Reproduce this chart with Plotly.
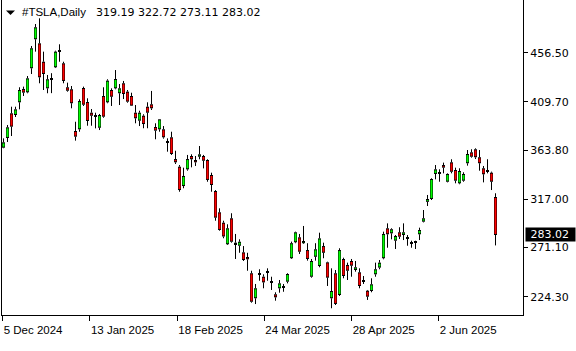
import plotly.graph_objects as go

# ---- data ----
opens = [366.1, 375.3, 398.8, 397.2, 409.3, 422.0, 418.8, 441.7, 469.3, 465.4,
         447.9, 422.6, 431.6, 442.6, 458.9, 446.4, 423.6, 421.7, 382.0, 383.6,
         422.9, 409.6, 399.4, 396.8, 385.1, 415.3, 409.3, 421.0, 422.6, 417.9,
         427.4, 419.4, 415.3, 399.4, 391.8, 396.5, 405.1, 407.4, 385.8, 383.6,
         383.6, 372.3, 376.0, 355.3, 348.0, 329.6, 345.5, 358.2, 354.4, 357.5,
         358.2, 354.4, 340.1, 324.9, 304.6, 294.7, 274.2, 298.9, 275.7, 272.8,
         266.5, 262.1, 246.6, 222.8, 245.3, 243.3, 247.0, 238.3, 226.6, 232.3,
         233.5, 238.6, 260.9, 276.1, 280.8, 275.2, 268.7, 243.3, 262.3, 253.5,
         272.5, 257.0, 222.8, 246.6, 225.9, 260.2, 254.5, 258.3, 249.7, 247.5,
         240.2, 230.0, 229.7, 245.6, 252.0, 260.9, 289.4, 284.6, 277.6, 285.6,
         283.0, 280.8, 275.5, 275.8, 283.7, 295.7, 314.6, 317.3, 341.1, 342.7,
         349.6, 333.7, 352.2, 344.9, 332.2, 334.7, 351.3, 361.7, 364.6, 357.0,
         346.5, 344.6, 342.3, 319.19]
highs = [375.0, 387.7, 405.1, 405.1, 423.6, 424.2, 434.3, 462.9, 483.8, 489.2,
         457.5, 435.3, 437.0, 458.4, 464.5, 447.9, 428.0, 424.8, 390.8, 412.2,
         424.2, 413.1, 402.9, 399.4, 398.2, 423.6, 431.2, 422.6, 440.0, 426.7,
         429.6, 421.0, 418.4, 406.7, 401.3, 397.9, 409.3, 420.1, 389.3, 393.3,
         386.7, 375.0, 381.3, 363.2, 349.6, 347.1, 359.2, 359.8, 358.2, 367.7,
         359.2, 355.1, 342.3, 325.8, 308.4, 296.6, 293.2, 303.7, 284.0, 278.9,
         272.5, 266.1, 249.0, 236.4, 250.4, 245.6, 251.3, 243.3, 228.5, 240.2,
         236.4, 246.6, 276.7, 286.2, 284.0, 291.6, 275.2, 260.2, 275.2, 285.2,
         275.7, 257.6, 251.3, 249.7, 270.4, 261.4, 256.7, 260.2, 258.3, 251.3,
         244.0, 230.7, 241.8, 256.7, 259.2, 286.2, 294.1, 289.4, 283.0, 290.4,
         294.1, 283.0, 277.6, 277.6, 290.0, 306.8, 321.1, 337.0, 349.6, 345.5,
         351.9, 341.7, 355.1, 347.1, 346.5, 342.7, 363.9, 364.6, 365.5, 363.9,
         348.7, 355.1, 343.3, 322.72]
lows = [365.6, 371.5, 377.2, 395.3, 402.6, 415.3, 417.9, 436.2, 457.5, 427.4,
        421.0, 417.9, 418.0, 441.9, 447.9, 427.4, 419.4, 403.6, 372.8, 381.3,
        405.8, 387.0, 387.0, 384.5, 382.9, 394.6, 408.4, 405.8, 421.7, 406.7,
        412.4, 408.9, 405.8, 389.3, 386.7, 384.6, 384.6, 402.0, 374.1, 381.3,
        374.7, 362.3, 359.2, 350.6, 324.2, 327.5, 344.2, 347.4, 348.7, 355.1,
        346.4, 333.7, 324.2, 296.6, 287.1, 279.9, 273.5, 275.7, 260.2, 266.1,
        258.3, 249.0, 218.6, 217.3, 239.5, 232.3, 239.5, 230.7, 220.5, 228.1,
        229.0, 237.0, 260.2, 275.2, 264.9, 274.5, 258.6, 242.4, 258.6, 252.3,
        260.9, 234.5, 213.3, 216.4, 225.0, 241.8, 240.2, 243.3, 248.1, 232.3,
        236.4, 221.2, 228.5, 243.3, 250.4, 259.9, 270.9, 278.9, 269.7, 279.2,
        278.2, 272.8, 270.9, 269.7, 278.2, 295.0, 310.6, 316.3, 336.0, 333.7,
        341.7, 333.1, 341.7, 332.2, 331.3, 333.7, 349.0, 356.6, 355.3, 344.2,
        333.1, 341.7, 325.8, 273.11]
closes = [371.2, 385.5, 386.1, 402.6, 421.0, 418.5, 432.1, 460.7, 480.7, 433.1,
          436.2, 431.2, 430.8, 457.5, 458.0, 429.6, 420.3, 408.4, 376.6, 410.5,
          407.0, 391.5, 396.5, 395.8, 397.2, 395.6, 429.9, 414.6, 431.5, 422.6,
          417.2, 409.9, 406.1, 394.1, 399.4, 388.6, 399.4, 403.6, 382.3, 393.1,
          376.0, 371.5, 360.1, 352.2, 325.8, 339.2, 355.3, 355.1, 352.2, 359.8,
          353.7, 335.4, 330.6, 299.5, 287.8, 281.6, 289.4, 276.6, 274.2, 276.6,
          259.2, 259.9, 219.5, 232.3, 246.0, 237.9, 248.0, 237.6, 223.7, 237.0,
          232.9, 245.9, 275.2, 285.6, 267.1, 277.3, 260.2, 258.3, 269.4, 279.8,
          266.1, 242.4, 229.7, 217.4, 268.7, 244.0, 249.0, 253.8, 252.3, 234.5,
          239.2, 224.3, 236.1, 250.4, 256.7, 284.0, 283.7, 288.5, 282.1, 281.4,
          285.6, 279.5, 274.8, 276.4, 287.8, 298.9, 317.3, 336.3, 345.5, 342.0,
          347.1, 341.1, 343.2, 334.7, 343.9, 341.1, 360.1, 357.5, 357.0, 351.3,
          340.8, 343.9, 333.7, 283.02]

date_labels = ["5 Dec 2024", "13 Jan 2025", "18 Feb 2025", "24 Mar 2025",
               "28 Apr 2025", "2 Jun 2025"]
date_label_bars = [-0.2, 21.6, 43.45, 65.2, 87.05, 108.8]

price_ticks = [456.5, 409.7, 363.8, 317.0, 271.1, 224.3]
price_tick_text = ["456.50", "409.70", "363.80", "317.00", "271.10", "224.30"]

symbol = "#TSLA,Daily"
last_ohlc = [319.19, 322.72, 273.11, 283.02]

bars = list(range(len(opens)))

W, H = 576, 351
ML, MR, MT, MB = 2, 53, 0, 36
PW = W - ML - MR
PH = H - MT - MB
Y_RANGE = [206.88, 506.65]
X_RANGE = [-0.375, 129.875]

UP_COLOR = "#00ff00"
DOWN_COLOR = "#ff0000"

ONE_PX = (Y_RANGE[1] - Y_RANGE[0]) / PH   # one pixel in price units


def px(x):
    return (x - ML) / PW


def py(y):
    return 1 - (y - MT) / PH


body_top = [max(o, c) for o, c in zip(opens, closes)]
body_bot = [min(o, c) for o, c in zip(opens, closes)]
body_len = [max(t - b, ONE_PX) for t, b in zip(body_top, body_bot)]

# wicks: segments above and below the body
wx, wy = [], []
for i, h, l, t, b in zip(bars, highs, lows, body_top, body_bot):
    wx += [i, i, None, i, i, None]
    wy += [h, t, None, b, l, None]

# coloured cores inside the black body
core = {UP_COLOR: ([], []), DOWN_COLOR: ([], [])}
for i, o, c, t, b in zip(bars, opens, closes, body_top, body_bot):
    if t - b > 2.2 * ONE_PX:
        cx, cy = core[UP_COLOR if c > o else DOWN_COLOR]
        cx += [i, i, None]
        cy += [b + ONE_PX, t - ONE_PX, None]

fig = go.Figure()
fig.add_trace(go.Scatter(x=wx, y=wy, mode="lines",
                         line=dict(color="black", width=1),
                         hoverinfo="skip", showlegend=False))
# black body (3 px wide)
fig.add_trace(go.Bar(x=bars, y=body_len, base=body_bot, width=0.75,
                     marker=dict(color="black", line=dict(width=0)),
                     hoverinfo="skip", showlegend=False))
for col, (cx, cy) in core.items():
    fig.add_trace(go.Scatter(x=cx, y=cy, mode="lines",
                             line=dict(color=col, width=2),
                             hoverinfo="skip", showlegend=False))

# title
fig.add_annotation(xref="paper", yref="paper", x=px(21), y=py(12.5),
                   xanchor="left", yanchor="middle", showarrow=False,
                   text=symbol, borderpad=0,
                   font=dict(family="Liberation Sans", size=11.5, color="black"))
fig.add_annotation(xref="paper", yref="paper", x=px(95), y=py(12.5),
                   xanchor="left", yanchor="middle", showarrow=False,
                   text=" ".join(f"{v:.2f}" for v in last_ohlc), borderpad=0,
                   font=dict(family="DejaVu Sans", size=11, color="black"))
# small triangle
fig.add_shape(type="path", xref="paper", yref="paper",
              path=f"M {px(6)},{py(10.5)} L {px(15)},{py(10.5)} L {px(10.5)},{py(15)} Z",
              fillcolor="black", line=dict(width=0))

# last price label
fig.add_annotation(xref="paper", yref="y", x=1, y=closes[-1],
                   xanchor="left", yanchor="middle", xshift=2, showarrow=False,
                   text="&nbsp;" + f"{closes[-1]:.2f}", align="left",
                   bgcolor="black", borderpad=1, width=47, height=11,
                   font=dict(family="DejaVu Sans", size=11, color="white"))

fig.update_layout(
    width=W, height=H,
    margin=dict(l=ML, r=MR, t=MT, b=MB),
    paper_bgcolor="white", plot_bgcolor="white",
    showlegend=False,
    barmode="overlay",
    xaxis=dict(range=X_RANGE, tickvals=date_label_bars, ticktext=date_labels,
               ticks="outside", ticklen=5, tickcolor="black", tickwidth=1,
               showline=True, linecolor="black", linewidth=1, showgrid=False,
               zeroline=False, ticklabelposition="outside right",
               ticklabelstandoff=4, automargin=False,
               tickfont=dict(family="Liberation Sans", size=11.5, color="black"),
               fixedrange=True),
    yaxis=dict(side="right", range=Y_RANGE, tickvals=price_ticks,
               ticktext=price_tick_text, ticks="outside", ticklen=4,
               tickcolor="black", tickwidth=1, showline=True, linecolor="black",
               linewidth=1, mirror=True, showgrid=False, zeroline=False,
               automargin=False,
               tickfont=dict(family="DejaVu Sans", size=11, color="black"),
               fixedrange=True),
)

fig.write_html("out.html")
